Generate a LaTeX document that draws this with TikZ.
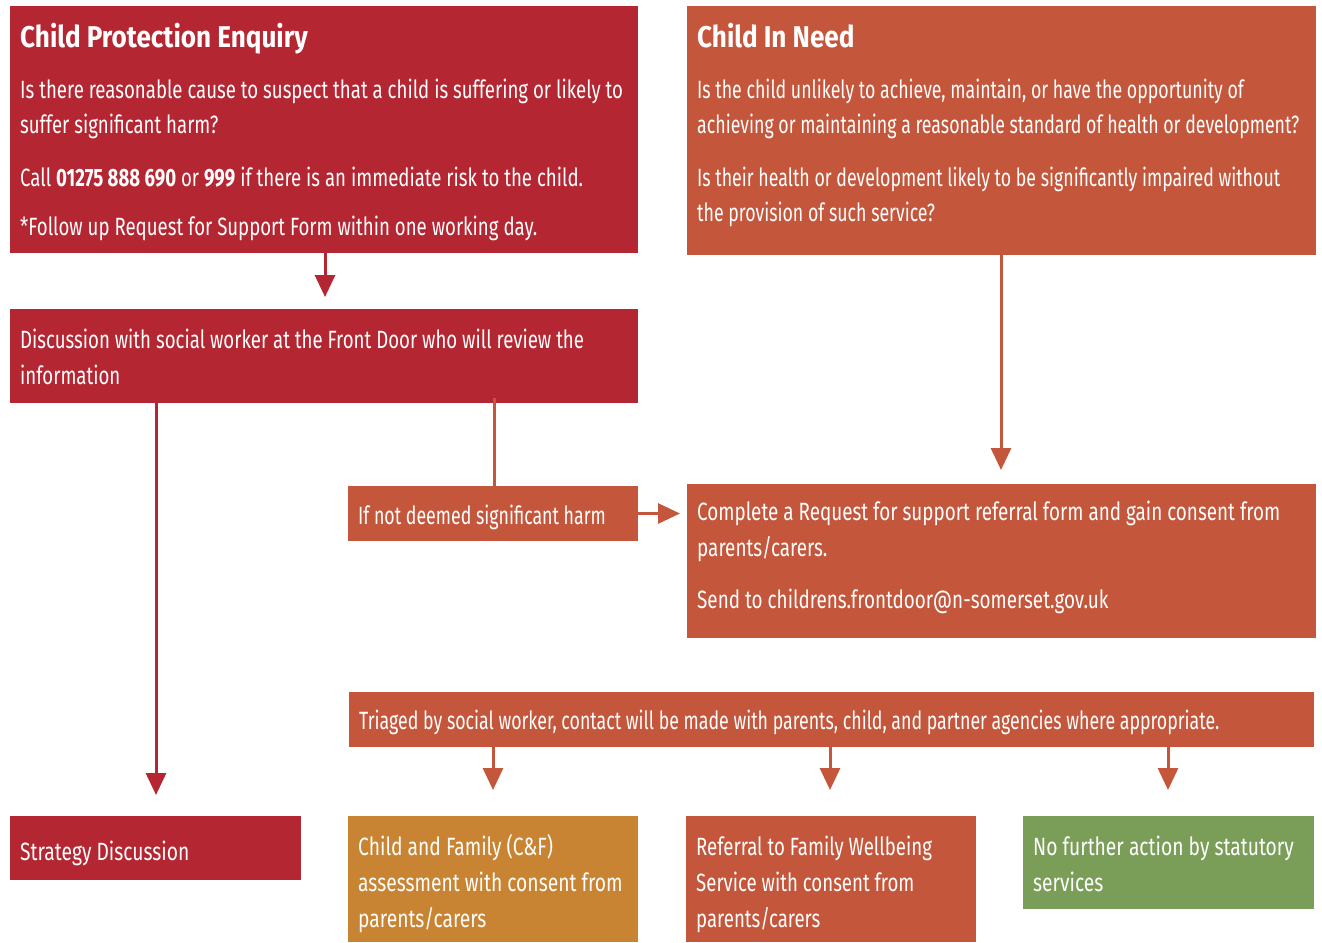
\documentclass[tikz,border=0pt]{standalone}
\usepackage{fontspec}
\setmainfont{Fira Sans}[FakeStretch=0.745]
\newfontfamily\fnar{Fira Sans}[FakeStretch=0.71]
\newfontfamily\fwid{Fira Sans}[FakeStretch=0.77]
\newfontfamily\fmid{Fira Sans}[FakeStretch=0.755]
\newfontfamily\fttl{Fira Sans}[FakeStretch=0.87]
\usetikzlibrary{arrows.meta}
\definecolor{cpred}{RGB}{180,38,50}
\definecolor{cinor}{RGB}{196,86,60}
\definecolor{amber}{RGB}{200,132,50}
\definecolor{grn}{RGB}{122,158,88}
\begin{document}
\begin{tikzpicture}[x=1pt,y=-1pt,
  box/.style={fill=#1, draw=none, inner sep=0pt, outer sep=0pt, anchor=north west},
  txt/.style={anchor=base west, text=white, inner sep=0pt, font=\fontsize{25}{30}\selectfont},
  txtn/.style={txt, font=\fontsize{25}{30}\selectfont\fnar},
  txtw/.style={txt, font=\fontsize{25}{30}\selectfont\fwid},
  txtm/.style={txt, font=\fontsize{25}{30}\selectfont\fmid},
  ttl/.style={anchor=base west, text=white, inner sep=0pt, font=\fontsize{30}{34}\selectfont\fttl\bfseries},
  arr/.style={draw=#1, line width=3pt, -{Triangle[width=20pt,length=22pt]}},
  conn/.style={draw=#1, line width=3pt}]
\useasboundingbox (0,0) rectangle (1322,942);
\fill[white] (0,0) rectangle (1322,942);
% boxes
\node[box=cpred, minimum width=628pt, minimum height=247pt] (cpe) at (10,6) {};
\node[box=cinor, minimum width=629pt, minimum height=249pt] (cin) at (687,6) {};
\node[box=cpred, minimum width=628pt, minimum height=94pt] (disc) at (10,309) {};
\node[box=cinor, minimum width=290pt, minimum height=55pt] (ifnot) at (348,486) {};
\node[box=cinor, minimum width=629pt, minimum height=154pt] (comp) at (687,484) {};
\node[box=cinor, minimum width=965pt, minimum height=55pt] (tri) at (349,692) {};
\node[box=cpred, minimum width=291pt, minimum height=64pt] (strat) at (10,816) {};
\node[box=amber, minimum width=290pt, minimum height=126pt] (cf) at (348,816) {};
\node[box=cinor, minimum width=290pt, minimum height=126pt] (ref) at (686,816) {};
\node[box=grn, minimum width=291pt, minimum height=93pt] (nfa) at (1023,816) {};
% texts
\node[ttl] (t1) at (20,48) {Child Protection Enquiry};
\node[txt] (t2) at (20,98) {Is there reasonable cause to suspect that a child is suffering or likely to};
\node[txt] (t3) at (20,133) {suffer significant harm?};
\node[txt] (t4) at (20,186) {Call \textbf{01275 888 690} or \textbf{999} if there is an immediate risk to the child.};
\node[txt] (t5) at (20,235) {*Follow up Request for Support Form within one working day.};
\node[ttl] (c1) at (697,48) {Child In Need};
\node[txtn] (c2) at (697,98) {Is the child unlikely to achieve, maintain, or have the opportunity of};
\node[txtn] (c3) at (697,133) {achieving or maintaining a reasonable standard of health or development?};
\node[txtn] (c4) at (697,186) {Is their health or development likely to be significantly impaired without};
\node[txtn] (c5) at (697,221) {the provision of such service?};
\node[txt] (d1) at (20,348) {Discussion with social worker at the Front Door who will review the};
\node[txt] (d2) at (20,384) {information};
\node[txtn] (i1) at (358,524) {If not deemed significant harm};
\node[txtm] (p1) at (697,520) {Complete a Request for support referral form and gain consent from};
\node[txtm] (p2) at (697,556) {parents/carers.};
\node[txtm] (p3) at (697,608) {Send to childrens.frontdoor@n-somerset.gov.uk};
\node[txtn] (r1) at (359,729) {Triaged by social worker, contact will be made with parents, child, and partner agencies where appropriate.};
\node[txtw] (s1) at (20,860) {Strategy Discussion};
\node[txtw] (f1) at (358,855) {Child and Family (C\&F)};
\node[txtw] (f2) at (358,891) {assessment with consent from};
\node[txtw] (f3) at (358,927) {parents/carers};
\node[txt] (w1) at (696,855) {Referral to Family Wellbeing};
\node[txt] (w2) at (696,891) {Service with consent from};
\node[txt] (w3) at (696,927) {parents/carers};
\node[txtw] (n1) at (1033,855) {No further action by statutory};
\node[txtw] (n2) at (1033,891) {services};
% connectors
\draw[arr=cpred, shorten >=12pt] ([xshift=315pt]cpe.south west) -- ([xshift=315pt]disc.north west);
\draw[arr=cpred, shorten >=21pt] ([xshift=146pt]disc.south west) -- ([xshift=146pt]strat.north west);
\draw[conn=cinor] ([xshift=484pt,yshift=5pt]disc.south west) -- ([xshift=146pt]ifnot.north west);
\draw[arr=cinor, shorten >=7pt] (ifnot.east) -- (ifnot.east -| comp.west);
\draw[arr=cinor, shorten >=14pt] ([xshift=314pt]cin.south west) -- ([xshift=314pt]comp.north west);
\draw[arr=cinor, shorten >=26pt] ([xshift=144pt]tri.south west) -- ([xshift=145pt]cf.north west);
\draw[arr=cinor, shorten >=26pt] ([xshift=481pt]tri.south west) -- ([xshift=144pt]ref.north west);
\draw[arr=cinor, shorten >=26pt] ([xshift=819pt]tri.south west) -- ([xshift=145pt]nfa.north west);
\end{tikzpicture}
\end{document}
